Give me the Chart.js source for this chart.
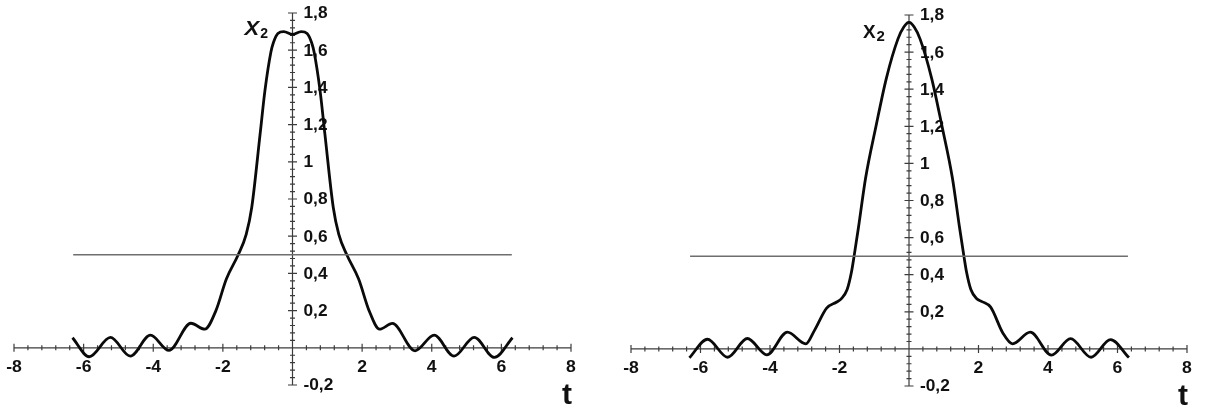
<!DOCTYPE html>
<html>
<head>
<meta charset="utf-8">
<title>X2(t)</title>
<script src="https://cdn.jsdelivr.net/npm/chart.js@4.4.1/dist/chart.umd.min.js"></script>
<style>
  html, body { margin: 0; padding: 0; background: #fff; overflow: hidden; }
  #wrap { position: relative; width: 1205px; height: 410px; }
  canvas { position: absolute; top: 0; }
  #chartLeft { left: 0; }
  #chartRight { left: 617px; }
</style>
</head>
<body>
<div id="wrap">
  <canvas id="chartLeft" width="600" height="410"></canvas>
  <canvas id="chartRight" width="588" height="410"></canvas>
</div>
<script>
// left panel: flat-topped pulse
const leftT  = [-6.32, -5.84, -5.23, -4.66, -4.08, -3.55, -2.92, -2.52, -2.2, -1.9,
                -1.56, -1.33, -1.17, -0.93, -0.79, -0.62, -0.55, -0.42, -0.25, 0,
                0.25, 0.42, 0.55, 0.62, 0.79, 0.93, 1.17, 1.33, 1.56, 1.9,
                2.2, 2.5, 2.87, 3.52, 4.07, 4.64, 5.22, 5.8, 6.32];
const leftX2 = [0.054, -0.048, 0.056, -0.045, 0.068, -0.014, 0.132, 0.10, 0.20, 0.37,
                0.50, 0.61, 0.756, 1.15, 1.385, 1.59, 1.64, 1.69, 1.70, 1.685,
                1.70, 1.69, 1.64, 1.59, 1.385, 1.15, 0.756, 0.61, 0.50, 0.37,
                0.20, 0.10, 0.131, -0.016, 0.068, -0.045, 0.056, -0.052, 0.054];

// right panel: peaked pulse
const rightT  = [-6.32, -5.8, -5.22, -4.65, -4.09, -3.5, -2.97, -2.72, -2.37, -2.08,
                 -1.95, -1.78, -1.66, -1.58, -1.45, -1.25, -0.95, -0.65, -0.32, -0.15,
                 0, 0.15, 0.32, 0.65, 0.95, 1.25, 1.45, 1.58, 1.66, 1.78,
                 1.95, 2.1, 2.35, 2.7, 2.98, 3.49, 4.1, 4.65, 5.24, 5.8, 6.33];
const rightX2 = [-0.048, 0.052, -0.045, 0.056, -0.032, 0.09, 0.027, 0.10, 0.22, 0.253,
                 0.27, 0.32, 0.41, 0.50, 0.66, 0.92, 1.20, 1.46, 1.67, 1.735,
                 1.76, 1.735, 1.67, 1.46, 1.20, 0.92, 0.66, 0.50, 0.41, 0.32,
                 0.27, 0.255, 0.225, 0.086, 0.027, 0.09, -0.034, 0.055, -0.045, 0.05, -0.047];

// 0.5 level line
const levelT = [-6.3, 6.3];
const levelValue = 0.5;

// tick labels (comma decimals, zero not labelled)
const xTickValues = [-8, -6, -4, -2, 2, 4, 6, 8];
const xTickLabels = ['-8', '-6', '-4', '-2', '2', '4', '6', '8'];
const yTickValues = [-0.2, 0.2, 0.4, 0.6, 0.8, 1, 1.2, 1.4, 1.6, 1.8];
const yTickLabels = ['-0,2', '0,2', '0,4', '0,6', '0,8', '1', '1,2', '1,4', '1,6', '1,8'];

const FONT = '"Liberation Sans", Arial, sans-serif';

// the scan is a bit wider than tall, so text gets a small horizontal stretch
function wideText(ctx, text, x, y, sx) {
  ctx.save();
  ctx.translate(x, y);
  ctx.scale(sx, 1);
  ctx.fillText(text, 0, 0);
  ctx.restore();
}

// axes crossing at the origin, drawn from the chart's own scales
const crossAxes = {
  id: 'crossAxes',
  beforeDatasetsDraw(chart, args, opts) {
    const { ctx, scales: { x, y } } = chart;
    const x0 = x.getPixelForValue(0);
    const y0 = y.getPixelForValue(0);
    ctx.save();
    ctx.strokeStyle = '#3c3c3c';
    ctx.lineWidth = 1.2;
    ctx.beginPath();
    ctx.moveTo(x.getPixelForValue(x.min), y0);
    ctx.lineTo(x.getPixelForValue(x.max), y0);
    ctx.moveTo(x0, y.getPixelForValue(y.min));
    ctx.lineTo(x0, y.getPixelForValue(y.max));

    // x ticks every 0.4, longer on even numbers
    for (let i = 0; i <= 40; i++) {
      const px = x.getPixelForValue(x.min + i * 0.4);
      const len = i % 5 === 0 ? 4 : 2.5;
      ctx.moveTo(px, y0 - len);
      ctx.lineTo(px, y0 + len);
    }
    // y ticks every 0.04, longer every 0.2
    for (let i = 0; i <= 50; i++) {
      const py = y.getPixelForValue(y.min + i * 0.04);
      const len = i % 5 === 0 ? 4.5 : 2.5;
      ctx.moveTo(x0 - len, py);
      ctx.lineTo(x0 + len, py);
    }
    ctx.stroke();

    ctx.fillStyle = '#111';
    ctx.font = 'bold 16px ' + FONT;
    ctx.textAlign = 'center';
    ctx.textBaseline = 'alphabetic';
    xTickValues.forEach((v, i) => wideText(ctx, xTickLabels[i], x.getPixelForValue(v), y0 + 24, 1.1));

    ctx.textAlign = 'left';
    ctx.textBaseline = 'middle';
    yTickValues.forEach((v, i) => wideText(ctx, yTickLabels[i], x0 + 11, y.getPixelForValue(v) + 1, 1.08));

    // axis names
    const yTop = y.getPixelForValue(y.max);
    ctx.textBaseline = 'alphabetic';
    ctx.font = opts.nameFont + FONT;
    const nx = x0 - opts.nameOffset;
    const ny = yTop + opts.nameDrop;
    wideText(ctx, 'X', nx, ny, 1.05);
    const w = ctx.measureText('X').width * 1.05;
    ctx.font = 'bold ' + opts.subSize + 'px ' + FONT;
    wideText(ctx, '2', nx + w + 1, ny + 3, 1.0);

    ctx.font = 'bold 30px ' + FONT;
    ctx.textAlign = 'center';
    ctx.fillText('t', x.getPixelForValue(x.max) - 4, y0 + 56);
    ctx.restore();
  }
};

function makeChart(id, tValues, xValues, padding, nameOpts) {
  const curve = tValues.map((t, i) => ({ x: t, y: xValues[i] }));
  const level = levelT.map(t => ({ x: t, y: levelValue }));
  return new Chart(document.getElementById(id), {
    type: 'line',
    data: {
      datasets: [
        {
          data: level,
          borderColor: '#6e6e6e',
          borderWidth: 1.5,
          pointRadius: 0
        },
        {
          data: curve,
          borderColor: '#0a0a0a',
          borderWidth: 2.8,
          pointRadius: 0,
          cubicInterpolationMode: 'monotone'
        }
      ]
    },
    options: {
      responsive: false,
      animation: false,
      layout: { padding },
      scales: {
        x: { type: 'linear', min: -8, max: 8, display: false },
        y: { type: 'linear', min: -0.2, max: 1.8, display: false }
      },
      plugins: {
        legend: { display: false },
        tooltip: { enabled: false },
        crossAxes: nameOpts
      }
    },
    plugins: [crossAxes]
  });
}

makeChart('chartLeft', leftT, leftX2,
  { left: 14, right: 29, top: 13, bottom: 25 },
  { nameFont: 'italic bold 21px ', nameOffset: 48, nameDrop: 22, subSize: 14 });

makeChart('chartRight', rightT, rightX2,
  { left: 14, right: 18, top: 15, bottom: 24 },
  { nameFont: 'bold 18px ', nameOffset: 46, nameDrop: 23, subSize: 15 });
</script>
</body>
</html>
